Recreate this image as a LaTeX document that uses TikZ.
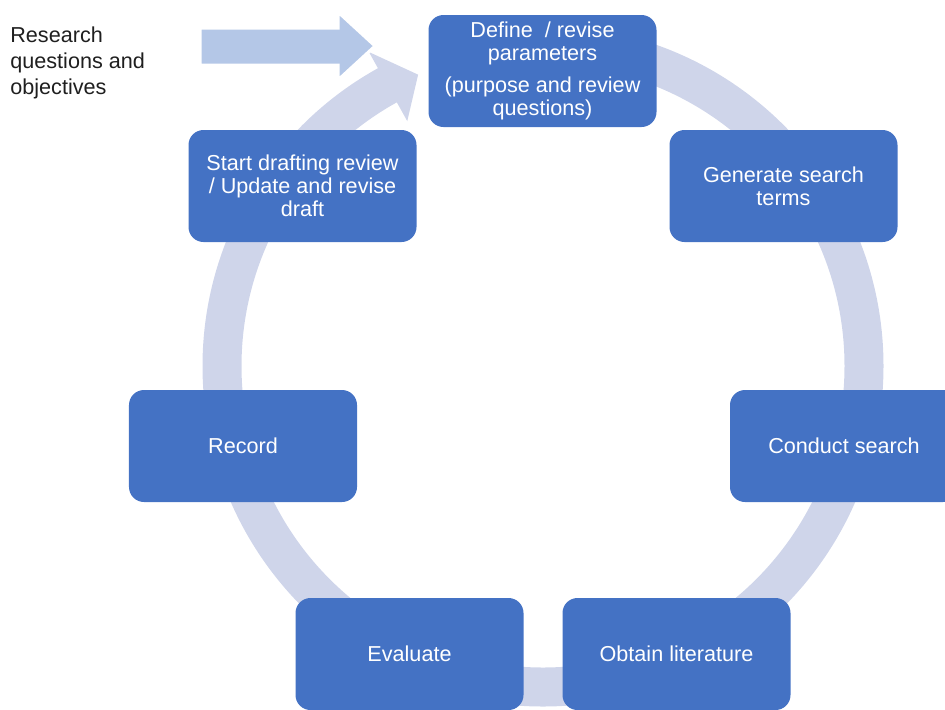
\documentclass[tikz,border=0pt]{standalone}
\usepackage{fontspec}
\setmainfont{Liberation Sans}
\usetikzlibrary{positioning}
\definecolor{stageblue}{HTML}{4472C4}
\definecolor{ringblue}{HTML}{CFD5EA}
\definecolor{inputblue}{HTML}{B4C7E7}

\begin{document}
\begin{tikzpicture}[x=0.2mm, y=-0.2mm,
    stage/.style={rectangle, rounded corners=3mm, fill=stageblue,
      text=white, minimum width=45.6mm, minimum height=22.4mm,
      align=center, inner sep=0pt,
      font=\fontsize{12.3}{13.2}\selectfont},
    cycle ring/.style={draw=ringblue, line width=7.8mm}]
  \useasboundingbox (0,0) rectangle (945,709);
  \coordinate (ctr) at (543,366);
  % the ring, with its head at the top left
  \draw[cycle ring] (ctr) ++(-90:321) arc[start angle=-90, end angle=241.5, radius=321];
  \fill[ringblue, shift={(ctr)}] (241:280) -- (246.8:317) -- (241:359) -- cycle;
  % input arrow
  \filldraw[fill=inputblue, draw=white, line width=0.6mm]
    (200,28) -- (338,28) -- (338,12) -- (375,46) -- (338,80) -- (338,65) -- (200,65) -- cycle;
  \node[anchor=west, align=left, text=black!88, inner sep=0pt,
    font=\fontsize{12.3}{14.8}\selectfont] (input) at (10,63)
    {Research\\questions and\\objectives};

  \node[stage] (define) at (542.5,71) {Define\ \ / revise\\parameters\\[5pt](purpose and review\\questions)};
  \node[stage] (terms) at (783.5,186) {Generate search\\terms};
  \node[stage] (search) at (844,446) {Conduct search};
  \node[stage] (obtain) at (676.5,654) {Obtain literature};
  \node[stage] (evaluate) at (409.5,654) {Evaluate};
  \node[stage] (record) at (243,446) {Record};
  \node[stage] (draft) at (302.5,186) {Start drafting review\\/ Update and revise\\draft};
\end{tikzpicture}
\end{document}
